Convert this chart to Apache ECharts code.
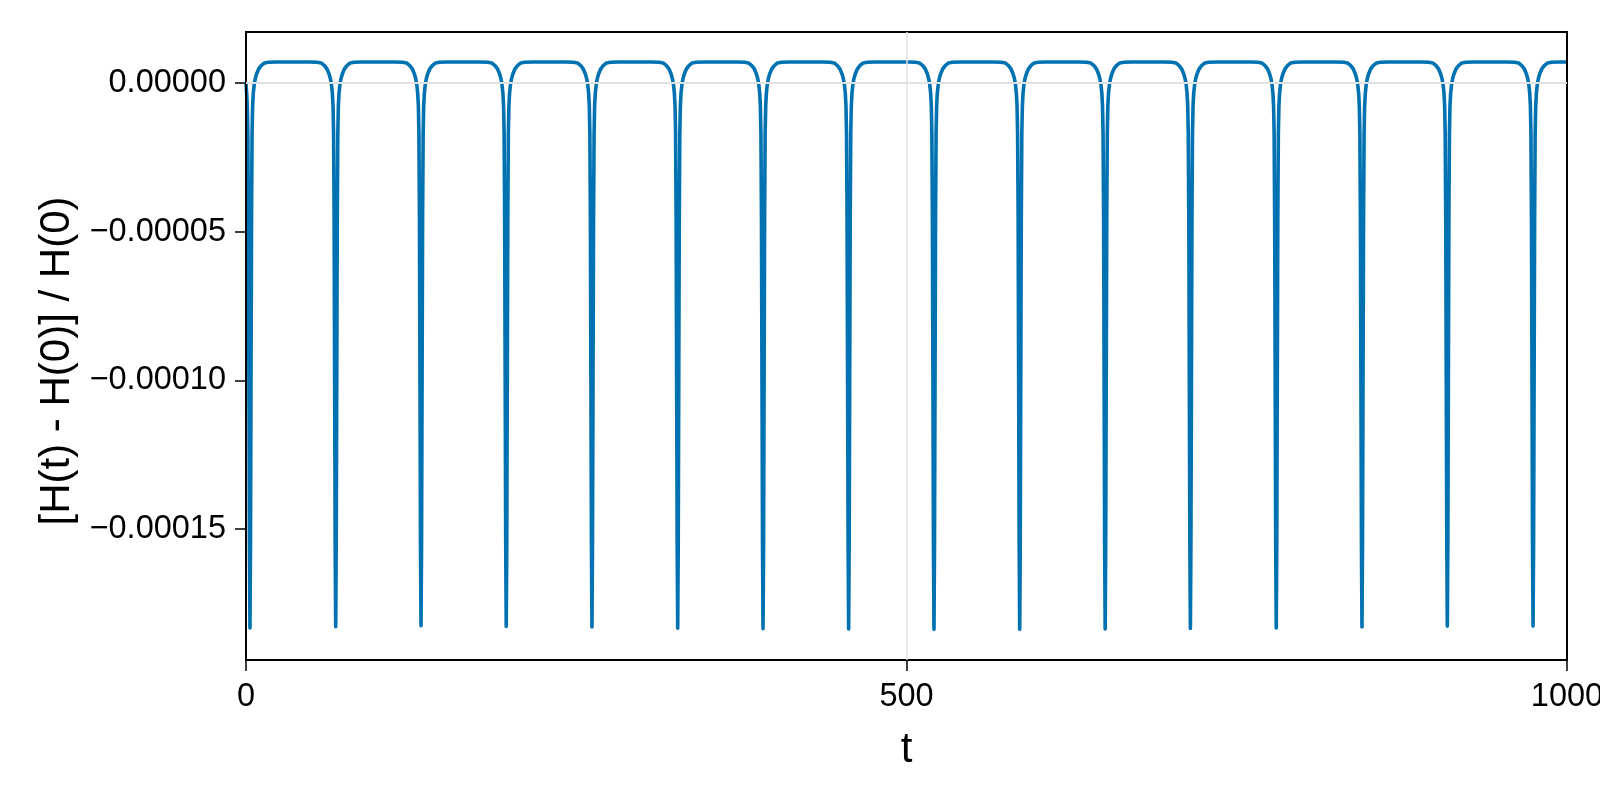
<!DOCTYPE html>
<html>
<head>
<meta charset="utf-8">
<script src="https://cdn.jsdelivr.net/npm/echarts@6/dist/echarts.min.js"></script>
<style>
  html, body { margin: 0; padding: 0; background: #fff; }
  #chart { width: 1600px; height: 800px; }
</style>
</head>
<body>
<div id="chart"></div>
<script>
// Times (t) at which each energy-error dip reaches its minimum
const spikeTimes = [3.0, 67.9, 132.5, 197.0, 261.9, 326.8, 391.4, 456.2, 520.8, 585.7, 650.4, 714.9, 779.9, 844.8, 909.4, 974.3];
// Minimum value of each dip
const spikeMins = [-183.2e-6, -182.8e-6, -182.5e-6, -182.7e-6, -182.9e-6, -183.3e-6, -183.5e-6, -183.6e-6,
                   -183.7e-6, -183.7e-6, -183.6e-6, -183.4e-6, -183.2e-6, -182.9e-6, -182.6e-6, -182.6e-6];
// Shape of one dip: offset in t from the dip centre, and value there
const dipOffsets = [-20, -14, -11, -8.5, -6.5, -5, -4, -3.2, -2.5, -2, -1.6, -1.2, -0.8, -0.4, 0,
                    0.4, 0.8, 1.2, 1.6, 2, 2.5, 3.2, 4, 5, 6.5, 8.5, 11, 14, 20];
const dipValues = [7.0e-6, 6.95e-6, 6.7e-6, 5.8e-6, 4.6e-6, 3.0e-6, 1.4e-6, -0.6e-6, -3.6e-6, -8e-6, -17e-6, -45e-6, -100e-6, -155e-6, null,
                   -155e-6, -100e-6, -45e-6, -17e-6, -8e-6, -3.6e-6, -0.6e-6, 1.4e-6, 3.0e-6, 4.6e-6, 5.8e-6, 6.7e-6, 6.95e-6, 7.0e-6];
// First and last samples of the series
const startPoint = [0, 0];
const endPoint = [1000, 7.0e-6];

const xTickValues = [0, 500, 1000];
const xTickLabels = ['0', '500', '1000'];
const yTickValues = [0, -0.00005, -0.0001, -0.00015];
const yTickLabels = ['0.00000', '\u22120.00005', '\u22120.00010', '\u22120.00015'];

const xName = 't';
const yName = '[H(t) - H(0)] / H(0)';

const points = [startPoint];
spikeTimes.forEach((tc, i) => {
  dipOffsets.forEach((d, j) => {
    const t = tc + d;
    if (t <= startPoint[0] || t >= endPoint[0]) return;
    points.push([t, dipValues[j] === null ? spikeMins[i] : dipValues[j]]);
  });
});
points.push(endPoint);

function pick(values, labels, v) {
  for (let i = 0; i < values.length; i++) {
    if (Math.abs(v - values[i]) < 1e-9 * Math.max(1, Math.abs(values[i]))) return labels[i];
  }
  return '';
}

const font = 'Liberation Sans, Arial, Helvetica, sans-serif';
const gridColor = '#e0e0e0';
const chart = echarts.init(document.getElementById('chart'), null, { renderer: 'canvas' });
chart.setOption({
  animation: false,
  backgroundColor: '#ffffff',
  grid: {
    left: 246, right: 33, top: 32, bottom: 140,
    show: true, borderColor: '#000', borderWidth: 2, backgroundColor: 'transparent',
    containLabel: false, outerBoundsMode: 'none', z: 5
  },
  xAxis: {
    type: 'value', min: 0, max: 1000,
    name: xName, nameLocation: 'middle', nameGap: 69,
    nameTextStyle: { fontSize: 42, color: '#000', fontFamily: font },
    axisLine: { show: false, onZero: false },
    axisTick: { show: true, inside: false, length: 11, customValues: xTickValues, lineStyle: { color: '#000', width: 1.5 } },
    axisLabel: {
      fontSize: 32.5, color: '#000', margin: 21, fontFamily: font, customValues: xTickValues,
      showMinLabel: true, showMaxLabel: true, hideOverlap: false,
      formatter: function (v) { return pick(xTickValues, xTickLabels, v); }
    },
    splitLine: { show: false }
  },
  yAxis: {
    type: 'value', min: -1.94e-4, max: 1.71e-5,
    name: yName, nameLocation: 'middle', nameRotate: 90, nameGap: 166,
    nameTextStyle: { fontSize: 42, color: '#000', fontFamily: font, padding: [0, 30, 0, 0] },
    axisLine: { show: false, onZero: false },
    axisTick: { show: true, inside: false, length: 11, customValues: yTickValues, lineStyle: { color: '#000', width: 1.5 } },
    axisLabel: {
      fontSize: 32.5, color: '#000', margin: 20, fontFamily: font, customValues: yTickValues,
      formatter: function (v) { return pick(yTickValues, yTickLabels, v); }
    },
    splitLine: { show: false }
  },
  series: [
    {
      type: 'line', data: [], z: 1, silent: true,
      markLine: {
        silent: true, symbol: 'none', animation: false,
        label: { show: false },
        lineStyle: { color: gridColor, width: 1.5, type: 'solid' },
        emphasis: { disabled: true },
        data: yTickValues.map(v => ({ yAxis: v }))
          .concat(xTickValues.filter(v => v > 0 && v < 1000).map(v => ({ xAxis: v })))
      }
    },
    {
      type: 'line', data: points, z: 3,
      showSymbol: false, symbol: 'none', smooth: false,
      lineStyle: { color: '#0072b2', width: 3.6, join: 'round', cap: 'butt' },
      clip: true
    }
  ]
});
</script>
</body>
</html>
